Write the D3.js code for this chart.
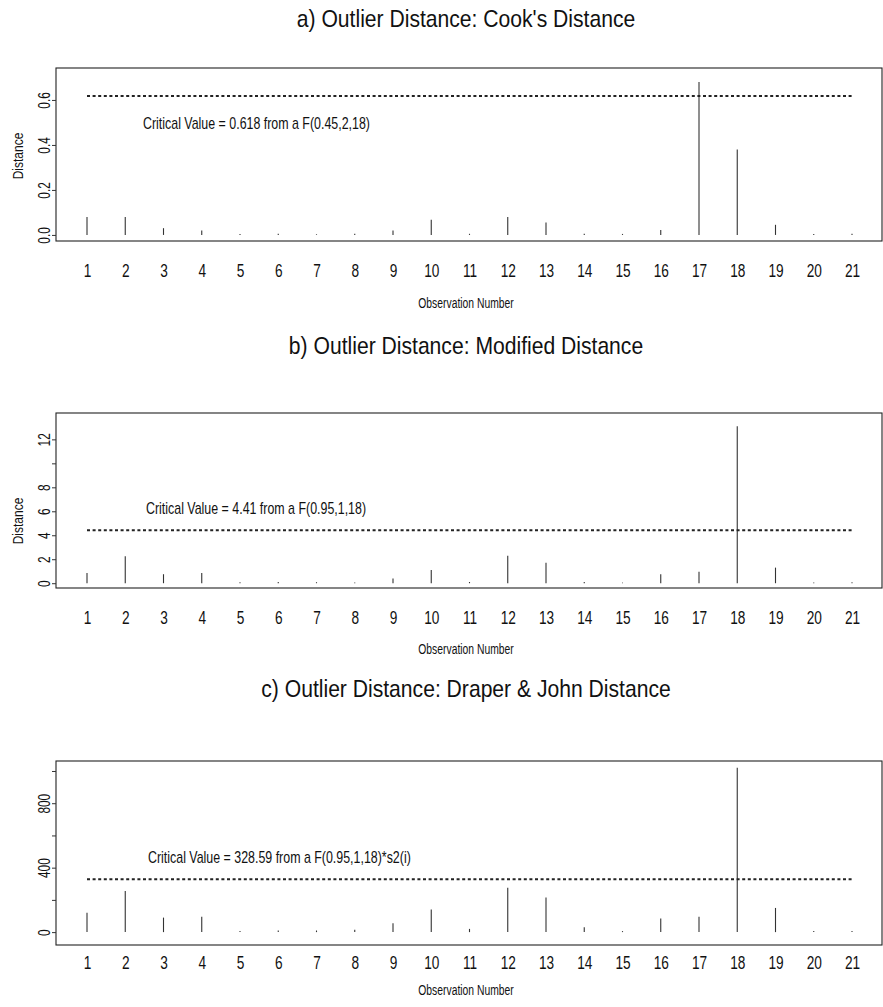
<!DOCTYPE html>
<html>
<head>
<meta charset="utf-8">
<script src="https://cdn.jsdelivr.net/npm/d3@7"></script>
<style>
  html, body { margin: 0; padding: 0; background: #fff; }
  svg { display: block; }
  text { font-family: "Liberation Sans", Arial, sans-serif; fill: #111; }
</style>
</head>
<body>
<svg id="chart" width="883" height="1007"></svg>
<script>
// ---- Data ----
const observations = d3.range(1, 22);
const cooksDistance = [0.08, 0.08, 0.03, 0.02, 0.0, 0.005, 0.003, 0.005, 0.02, 0.068, 0.005, 0.08, 0.055, 0.005, 0.0, 0.022, 0.68, 0.38, 0.045, 0.0, 0.005];
const modifiedDistance = [0.85, 2.25, 0.75, 0.85, 0.0, 0.1, 0.0, 0.05, 0.4, 1.1, 0.1, 2.3, 1.7, 0.1, 0.05, 0.75, 0.95, 13.1, 1.3, 0.05, 0.0];
const draperJohnDistance = [120, 255, 90, 95, 0, 10, 10, 15, 55, 140, 20, 275, 215, 30, 0, 85, 95, 1020, 150, 0, 0];

const panelTitles = ["a) Outlier Distance: Cook's Distance", "b) Outlier Distance: Modified Distance", "c) Outlier Distance: Draper & John Distance"];
const criticalValues = [0.618, 4.41, 328.59];
const criticalLabels = ["Critical Value = 0.618 from a F(0.45,2,18)", "Critical Value = 4.41 from a F(0.95,1,18)", "Critical Value = 328.59 from a F(0.95,1,18)*s2(i)"];
const yTicksA = [0, 0.2, 0.4, 0.6];
const yTickLabelsA = ["0.0", "0.2", "0.4", "0.6"];
const yTicksB = [0, 2, 4, 6, 8, 10, 12];
const yTickLabelsB = ["0", "2", "4", "6", "8", "", "12"];
const yTicksC = [0, 200, 400, 600, 800, 1000];
const yTickLabelsC = ["0", "", "400", "", "800", ""];
const xLabel = "Observation Number";
const yLabel = "Distance";

// ---- Layout ----
const svg = d3.select("#chart");
const boxLeft = 56, boxRight = 882;
const x = d3.scaleLinear().domain([1, 21]).range([87, 852]);

// draw horizontally condensed text (emulates a narrow typeface)
function narrowText(sel, px, py, str, size, sx, anchor) {
  sel.append("text")
    .attr("transform", `translate(${px},${py}) scale(${sx},1)`)
    .attr("text-anchor", anchor || "start")
    .style("font-size", size + "px")
    .text(str);
}

const panels = [
  { title: panelTitles[0], values: cooksDistance, crit: criticalValues[0], critLabel: criticalLabels[0],
    ticks: yTicksA, tickLabels: yTickLabelsA, domain: [-0.027, 0.742], top: 68, bottom: 241,
    titleY: 27, tickY: 277, xlabY: 308, yLabelY: 156, critDy: 33, critX: 143 },
  { title: panelTitles[1], values: modifiedDistance, crit: criticalValues[1], critLabel: criticalLabels[1],
    ticks: yTicksB, tickLabels: yTickLabelsB, domain: [-0.4, 14.2], top: 413, bottom: 588,
    titleY: 354, tickY: 624, xlabY: 654, yLabelY: 521, critDy: -16, critX: 146 },
  { title: panelTitles[2], values: draperJohnDistance, crit: criticalValues[2], critLabel: criticalLabels[2],
    ticks: yTicksC, tickLabels: yTickLabelsC, domain: [-80, 1062], top: 761, bottom: 945,
    titleY: 697, tickY: 969, xlabY: 995, yLabelY: null, critDy: -16, critX: 148 }
];

panels.forEach(p => {
  const g = svg.append("g");
  const y = d3.scaleLinear().domain(p.domain).range([p.bottom, p.top]);

  // title
  narrowText(g, 466, p.titleY, p.title, 24, 0.88, "middle");

  // box
  g.append("rect")
    .attr("x", boxLeft).attr("y", p.top)
    .attr("width", boxRight - boxLeft).attr("height", p.bottom - p.top)
    .attr("fill", "none").attr("stroke", "#222").attr("stroke-width", 1.1);

  // y axis ticks
  const yAxis = d3.axisLeft(y).tickValues(p.ticks).tickSize(4).tickFormat((d, i) => p.tickLabels[i]);
  const ya = g.append("g").attr("transform", `translate(${boxLeft},0)`).call(yAxis);
  ya.select(".domain").remove();
  ya.selectAll(".tick line").attr("stroke", "#333");
  ya.selectAll(".tick text")
    .attr("x", 0).attr("y", 0).attr("dy", 0)
    .attr("transform", "translate(-6,0) rotate(-90) scale(0.72,1)")
    .attr("text-anchor", "middle")
    .style("font-size", "16.5px")
    .style("font-family", '"Liberation Sans", Arial, sans-serif')
    .attr("fill", "#111");

  // x tick labels
  const xAxis = d3.axisBottom(x).tickValues(observations).tickSize(0).tickFormat(d3.format("d"));
  const xa = g.append("g").attr("transform", `translate(0,${p.tickY})`).call(xAxis);
  xa.select(".domain").remove();
  xa.selectAll(".tick text")
    .attr("y", 0).attr("dy", 0)
    .attr("transform", "scale(0.72,1)")
    .style("font-size", "19px")
    .style("font-family", '"Liberation Sans", Arial, sans-serif')
    .attr("fill", "#111");

  // x label
  narrowText(g, 466, p.xlabY, xLabel, 15, 0.69, "middle");

  // y label
  if (p.yLabelY !== null) {
    g.append("text")
      .attr("transform", `translate(23,${p.yLabelY}) rotate(-90) scale(0.8,1)`)
      .attr("text-anchor", "middle")
      .style("font-size", "15px")
      .text(yLabel);
  }

  // spikes
  g.selectAll("line.spike")
    .data(observations)
    .join("line")
    .attr("class", "spike")
    .attr("x1", d => x(d)).attr("x2", d => x(d))
    .attr("y1", y(0))
    .attr("y2", (d, i) => y(p.values[i]) - (p.values[i] > 0 ? 0 : 1))
    .attr("stroke", "#333")
    .attr("stroke-width", 1.1);

  // critical line
  g.append("line")
    .attr("x1", x(1)).attr("x2", x(21))
    .attr("y1", y(p.crit)).attr("y2", y(p.crit))
    .attr("stroke", "#222")
    .attr("stroke-width", 2)
    .attr("stroke-dasharray", "3,2.6");

  // critical label
  narrowText(g, p.critX, y(p.crit) + p.critDy, p.critLabel, 17, 0.73, "start");
});
</script>
</body>
</html>
